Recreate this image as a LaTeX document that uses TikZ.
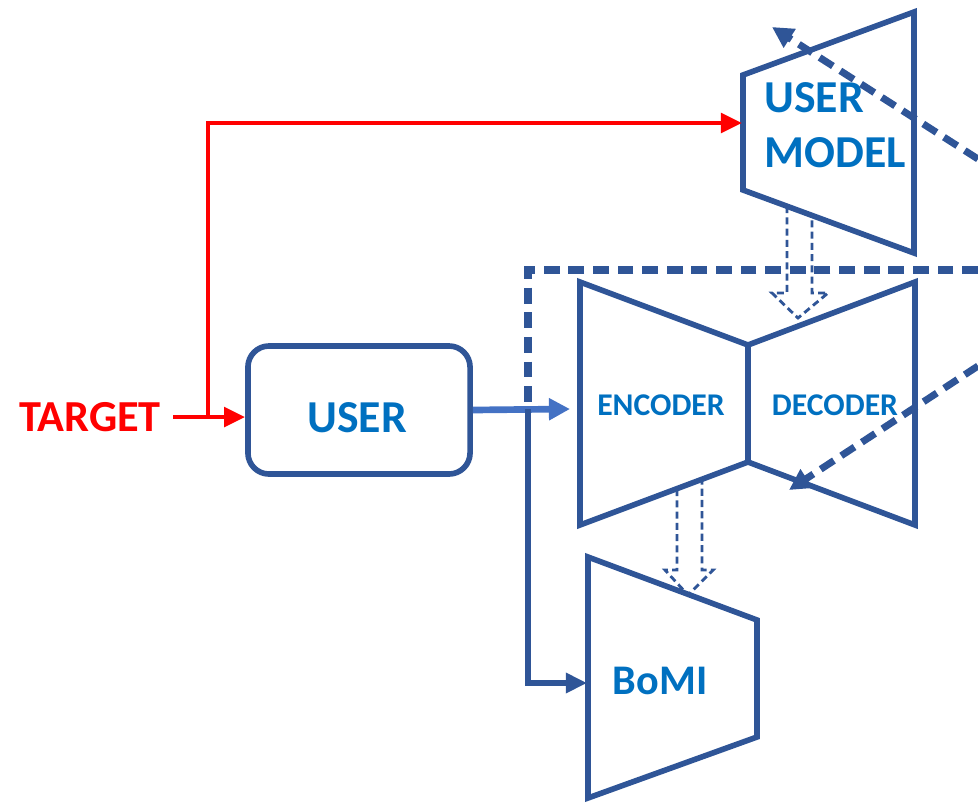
\documentclass[tikz,border=0pt]{standalone}
\usepackage{fontspec}
\setmainfont{Carlito}
\usetikzlibrary{arrows.meta, positioning}

\definecolor{lineblue}{RGB}{47,85,151}
\definecolor{textblue}{RGB}{0,112,192}
\definecolor{flowblue}{RGB}{68,114,196}

\tikzset{
    frame/.style={draw=lineblue, line width=1.6pt, line join=miter},
    bigtext/.style={text=textblue, font=\fontsize{13}{15.5}\selectfont\bfseries},
    smalltext/.style={text=textblue, font=\fontsize{9}{11}\selectfont\bfseries},
    redline/.style={draw=red, line width=1.3pt, -{Triangle[length=6pt,width=5.5pt]}},
    flow/.style={draw=flowblue, line width=1.9pt, -{Triangle[length=6pt,width=6pt]}},
    feedback/.style={draw=lineblue, line width=2pt, dash pattern=on 4.5pt off 2.5pt},
    latent/.style={draw=lineblue, line width=0.8pt, dash pattern=on 2pt off 1.2pt, line join=miter}
}

\begin{document}
\begin{tikzpicture}[x=0.01cm, y=-0.01cm]
    \useasboundingbox (0,0) rectangle (978,802);

    % Draw the blocks
    \draw[frame] (743,75) -- (914,12) -- (914,253) -- (743,190) -- cycle;
    \draw[frame] (748,345) -- (580,282) -- (580,525) -- (748,462) -- cycle;
    \draw[frame] (748,345) -- (915,282) -- (915,525) -- (748,462);
    \draw[frame] (588,557) -- (757,620) -- (757,737) -- (588,798) -- cycle;

    \node[frame, rounded corners=6pt, minimum width=2.22cm, minimum height=1.28cm] (user) at (359,410) {};
    \node[bigtext] (usertext) at (357,418) {USER};
    \node[bigtext, align=left, anchor=west] (umodel) at (752,125) {USER\\MODEL};
    \node[smalltext] (enc) at (661,405) {ENCODER};
    \node[smalltext] (dec) at (835,405) {DECODER};
    \node[bigtext, font=\fontsize{12}{14}\selectfont\bfseries] (bomi) at (660,681) {BoMI};
    \node[text=red, font=\fontsize{12.6}{15}\selectfont\bfseries] (target) at (90,417) {TARGET};

    % Connection points
    \coordinate (split)   at (208,417);
    \coordinate (um-in)   at (742,123);
    \coordinate (enc-in)  at (570,409);
    \coordinate (branch)  at (528,409);
    \coordinate (bomi-in) at (587,683);
    \coordinate (fb-in)   at (978,270);
    \coordinate (out-a)   at (978,159);
    \coordinate (um-out)  at (772,27);
    \coordinate (out-b)   at (978,366);
    \coordinate (dec-in)  at (789,490);

    % Connect the blocks
    \draw[redline] (target.east) -- (user.west |- target.east);
    \draw[redline] (split) |- (um-in);
    \draw[flow] (user.east) -- (enc-in);
    \draw[feedback] (fb-in) -| (branch);
    \draw[frame, -{Triangle[length=6pt,width=5.5pt]}] (branch) |- (bomi-in);
    \draw[feedback, -{Triangle[length=6pt,width=6pt]}] (out-a) -- (um-out);
    \draw[feedback, -{Triangle[length=6pt,width=6pt]}] (out-b) -- (dec-in);

    % Hollow dashed arrows
    \draw[latent] (787,206) -- (787,293) -- (772,293) -- (798,318) -- (828,293) -- (812,293) -- (812,215);
    \draw[latent] (677,489) -- (677,570) -- (665,570) -- (688,595) -- (713,570) -- (702,570) -- (702,479);
\end{tikzpicture}
\end{document}
